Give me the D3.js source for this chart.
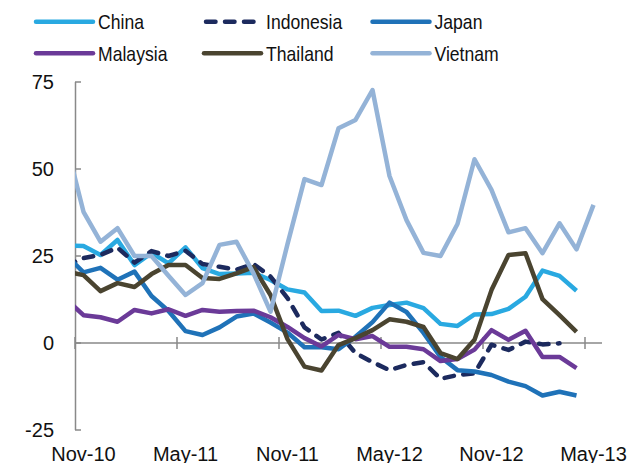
<!DOCTYPE html>
<html>
<head>
<meta charset="utf-8">
<script src="https://cdn.jsdelivr.net/npm/d3@7"></script>
<style>
  body { margin: 0; background: #fff; }
  svg { display: block; font-family: "Liberation Sans", Arial, sans-serif; }
</style>
</head>
<body>
<svg width="635" height="463"></svg>
<script>
// months on the axis (one category per month)
const months = ["Nov-10","Dec-10","Jan-11","Feb-11","Mar-11","Apr-11","May-11","Jun-11","Jul-11","Aug-11","Sep-11","Oct-11",
  "Nov-11","Dec-11","Jan-12","Feb-12","Mar-12","Apr-12","May-12","Jun-12","Jul-12","Aug-12","Sep-12","Oct-12",
  "Nov-12","Dec-12","Jan-13","Feb-13","Mar-13","Apr-13","May-13"];
const tickMonths = ["Nov-10","May-11","Nov-11","May-12","Nov-12","May-13"];
const yTicks = [-25, 0, 25, 50, 75];

// Oct-10 value of each series (only a short stub of it shows at the left edge)
const leadValues = [28, 22.2, 25.2, 12.5, 20.5, 57];

const china     = [27.9,25.3,29.6,22.4,25.9,22.9,27.5,21.5,19.8,20.0,20.2,18.1,15.4,14.5,9.2,9.3,7.8,10.1,10.9,11.6,10.0,5.5,4.9,8.2,8.3,9.8,13.3,20.8,19.3,15.0];
const indonesia = [24.4,25.3,27.4,23.1,26.4,25.0,26.5,22.7,21.9,21.1,22.7,19.1,12.9,4.5,1.0,2.9,-2.9,-5.5,-7.8,-6.3,-5.5,-10.3,-9.2,-8.7,-0.5,-2.0,0.4,-0.4,-0.1];
const japan     = [20.3,21.6,18.2,20.5,13.5,9.2,3.4,2.3,4.5,7.6,8.5,5.9,3.0,-1.2,-1.2,-1.8,1.8,6.0,11.6,8.9,2.9,-4.0,-7.8,-8.2,-9.2,-11.1,-12.4,-15.1,-14.0,-15.1];
const malaysia  = [8.0,7.4,6.1,9.5,8.5,9.7,7.8,9.5,9.0,9.2,9.3,7.4,4.6,1.4,-1.0,2.3,1.1,2.0,-1.1,-1.1,-1.8,-5.2,-4.6,-1.9,3.7,0.9,3.5,-4.0,-4.0,-7.2];
const thailand  = [19.5,14.9,17.2,16.1,19.8,22.4,22.4,18.7,18.4,20.0,21.8,13.8,1.1,-6.8,-7.9,-0.6,1.4,3.7,6.8,6.1,4.6,-2.9,-4.6,0.9,15.2,25.3,25.8,12.6,8.0,3.2];
const vietnam   = [37.7,29.1,33.0,25.0,25.0,19.3,13.8,17.2,28.2,29.1,20.0,9.0,28.4,47.1,45.4,61.7,64.1,72.7,48.0,35.3,25.9,25.0,34.2,52.8,44.0,31.8,33.0,25.8,34.4,26.9,39.7];

const names = ["China","Indonesia","Japan","Malaysia","Thailand","Vietnam"];
const colors = ["#29a9e1","#1c2a5e","#1f72b8","#6b3a98","#4a4430","#94b3d7"];
const values = [china, indonesia, japan, malaysia, thailand, vietnam];

const svg = d3.select("svg");

const x = d3.scaleBand().domain(months).range([75, 602]).padding(0);
const bw = x.bandwidth();
const y = d3.scaleLinear().domain([-25, 75]).range([430, 82]);

const axisColor = "#898989";

// y axis
svg.append("line")
  .attr("x1", 75.5).attr("x2", 75.5)
  .attr("y1", y(75)).attr("y2", y(-25))
  .attr("stroke", axisColor).attr("stroke-width", 1.5);
svg.append("g").selectAll("line")
  .data(yTicks).enter().append("line")
  .attr("x1", 75).attr("x2", 81)
  .attr("y1", d => y(d)).attr("y2", d => y(d))
  .attr("stroke", axisColor).attr("stroke-width", 1.5);
svg.append("g").selectAll("text")
  .data(yTicks).enter().append("text")
  .attr("x", 54).attr("y", d => y(d))
  .attr("dy", "0.35em")
  .attr("text-anchor", "end")
  .style("font-size", "20px").style("fill", "#111")
  .text(d => d);

// x axis at zero
svg.append("line")
  .attr("x1", 75).attr("x2", 602)
  .attr("y1", y(0)).attr("y2", y(0))
  .attr("stroke", axisColor).attr("stroke-width", 1.5);
svg.append("g").selectAll("line")
  .data(tickMonths).enter().append("line")
  .attr("x1", d => x(d)).attr("x2", d => x(d))
  .attr("y1", y(0) - 6).attr("y2", y(0) + 6)
  .attr("stroke", axisColor).attr("stroke-width", 1.5);
svg.append("g").selectAll("text")
  .data(tickMonths).enter().append("text")
  .attr("x", d => x(d) + bw / 2).attr("y", 461)
  .attr("text-anchor", "middle")
  .style("font-size", "20px").style("fill", "#111")
  .text(d => d);

// plot clip
svg.append("clipPath").attr("id", "plot")
  .append("rect").attr("x", 75).attr("y", 0).attr("width", 527).attr("height", 463);

const line = d3.line()
  .x(d => d.x)
  .y(d => y(d.v));

const series = names.map((name, i) => {
  const pts = [{x: x(months[0]) - bw / 2, v: leadValues[i]}];
  values[i].forEach((v, j) => pts.push({x: x(months[j]) + bw / 2, v: v}));
  return {name, color: colors[i], pts};
});

svg.append("g").attr("clip-path", "url(#plot)")
  .selectAll("path")
  .data(series).enter().append("path")
  .attr("d", d => line(d.pts))
  .attr("fill", "none")
  .attr("stroke", d => d.color)
  .attr("stroke-width", 4.5)
  .attr("stroke-linejoin", "round")
  .attr("stroke-linecap", d => d.name === "Indonesia" ? "round" : "butt")
  .attr("stroke-dasharray", d => d.name === "Indonesia" ? "9.5,9.5" : null);

// legend
const legCols = [36, 204, 372.5];
const legRows = [21.7, 53.3];
const leg = svg.append("g").selectAll("g")
  .data(series).enter().append("g")
  .attr("transform", (d, i) => `translate(${legCols[i % 3]},${legRows[Math.floor(i / 3)]})`);
leg.append("line")
  .attr("x1", d => d.name === "Indonesia" ? 2 : 0).attr("x2", 57)
  .attr("stroke", d => d.color)
  .attr("stroke-width", 4.5)
  .attr("stroke-linecap", "round")
  .attr("stroke-dasharray", d => d.name === "Indonesia" ? "9.5,9.5" : null);
leg.append("text")
  .attr("transform", "translate(62,0) scale(0.88,1)")
  .attr("dy", "0.36em")
  .style("font-size", "20px").style("fill", "#111")
  .text(d => d.name);
</script>
</body>
</html>
